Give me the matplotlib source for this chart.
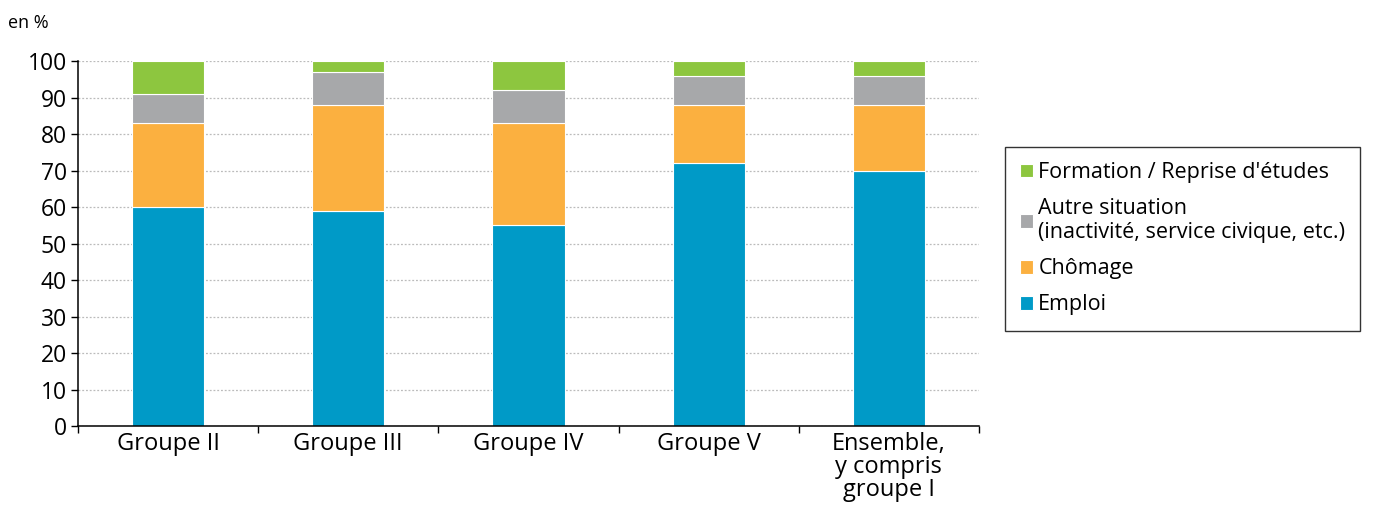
import matplotlib.pyplot as plt
import numpy as np

groups = ["Groupe II", "Groupe III", "Groupe IV", "Groupe V", "Ensemble,\ny compris\ngroupe I"]
emploi = [60, 59, 55, 72, 70]
chomage = [23, 29, 28, 16, 18]
autre = [8, 9, 9, 8, 8]
formation = [9, 3, 8, 4, 4]

labels = ["Emploi", "Chômage", "Autre situation\n(inactivité, service civique, etc.)",
          "Formation / Reprise d'études"]
colors = ["#009AC7", "#FBB040", "#A7A8AA", "#8DC63F"]

plt.rcParams['font.family'] = ['Open Sans', 'DejaVu Sans']

fig = plt.figure(figsize=(13.78, 5.08), dpi=100)
ax = fig.add_axes([0.0566, 0.1614, 0.6538, 0.7185])

x = np.arange(len(groups))
bottom = np.zeros(len(groups))
handles = []
for vals, lab, col in zip([emploi, chomage, autre, formation], labels, colors):
    b = ax.bar(x, vals, 0.4, bottom=bottom, color=col, edgecolor="white",
               linewidth=0.8, label=lab, zorder=2)
    handles.append(b)
    bottom += np.array(vals)

ax.set_xlim(-0.5, len(groups) - 0.5)
ax.set_ylim(0, 100)
ax.set_yticks(range(0, 101, 10))
ax.yaxis.grid(True, linestyle=(0, (1.5, 1.5)), color="#BBBBBB", linewidth=0.9, zorder=0)
ax.set_axisbelow(True)

ax.set_xticks(x)
ax.set_xticklabels(groups, fontsize=17, va="top", linespacing=0.97)
ax.set_xticks(np.arange(-0.5, len(groups)), minor=True)
ax.tick_params(axis="x", which="major", length=0, pad=4)
ax.tick_params(axis="x", which="minor", length=5, width=1, direction="out")
ax.tick_params(axis="y", length=5, width=1, labelsize=16.5, pad=3)

for s in ["top", "right"]:
    ax.spines[s].set_visible(False)
for s in ["left", "bottom"]:
    ax.spines[s].set_linewidth(1.1)

fig.text(0.006, 0.955, "en %", fontsize=13, va="center")

leg = fig.legend(handles[::-1], labels[::-1], loc="center left",
                 bbox_to_anchor=(0.7293, 0.53), fontsize=15.5, frameon=True,
                 fancybox=False, edgecolor="black", handlelength=0.6,
                 handleheight=0.6, handletextpad=0.25, labelspacing=0.7,
                 borderpad=0.7, borderaxespad=0)
leg.get_frame().set_linewidth(1.0)

fig.savefig("out.png", dpi=100)
